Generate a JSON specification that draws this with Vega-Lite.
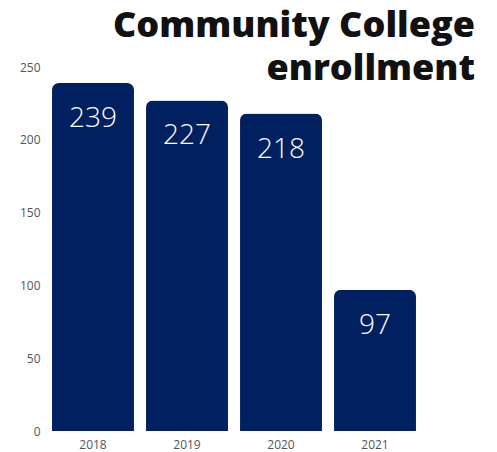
{
  "$schema": "https://vega.github.io/schema/vega-lite/v6.json",
  "autosize": "none",
  "width": 376,
  "height": 364,
  "padding": {"left": 46, "top": 67, "right": 75, "bottom": 21},
  "background": "white",
  "title": {
    "text": ["Community College", "enrollment"],
    "anchor": "end",
    "frame": "group",
    "orient": "top",
    "font": "Open Sans",
    "fontWeight": 800,
    "fontSize": 36,
    "lineHeight": 43,
    "color": "#111111",
    "offset": 0,
    "dx": 53,
    "dy": 27
  },
  "data": {"values": [
    {"year": "2018", "value": 239},
    {"year": "2019", "value": 227},
    {"year": "2020", "value": 218},
    {"year": "2021", "value": 97}
  ]},
  "encoding": {
    "x": {"field": "year", "type": "nominal", "sort": null,
      "scale": {"paddingInner": 0.128, "paddingOuter": 0.064},
      "axis": {"title": null, "labelAngle": 0, "ticks": false, "domain": false, "labelPadding": 8, "labelFont": "Open Sans", "labelFontSize": 12, "labelColor": "#555555"}},
    "y": {"field": "value", "type": "quantitative",
      "scale": {"domain": [0, 250]},
      "axis": {"title": null, "grid": false, "ticks": false, "domain": false, "values": [0, 50, 100, 150, 200, 250], "labelPadding": 6, "labelFont": "Open Sans", "labelFontSize": 12, "labelColor": "#555555"}}
  },
  "layer": [
    {"mark": {"type": "bar", "color": "#00205F", "cornerRadiusTopLeft": 7, "cornerRadiusTopRight": 7}},
    {"mark": {"type": "text", "color": "white", "font": "Open Sans", "fontSize": 28, "fontWeight": 300, "baseline": "middle", "dy": 36},
      "encoding": {"text": {"field": "value", "type": "quantitative"}}}
  ],
  "config": {"view": {"stroke": null}}
}
